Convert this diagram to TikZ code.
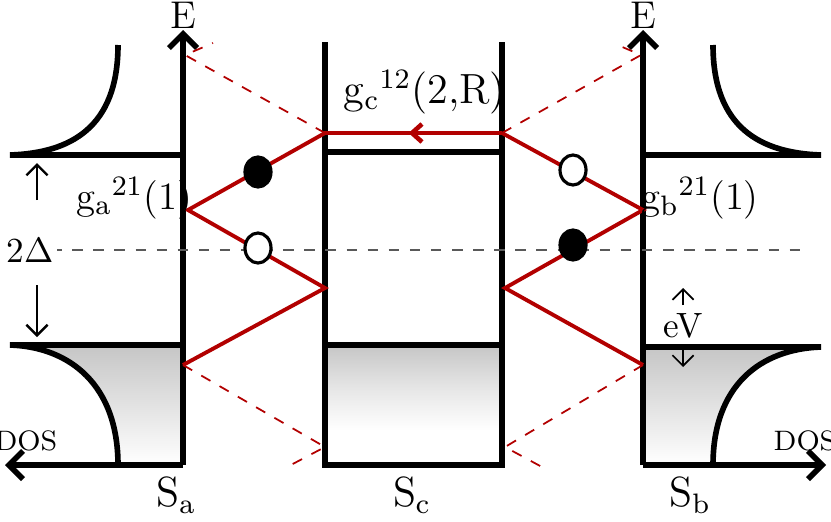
\documentclass[tikz,border=0pt]{standalone}
\usetikzlibrary{arrows.meta,shapes.geometric}
\begin{document}
\begin{tikzpicture}[x=0.01cm,y=-0.01cm,
  every node/.style={font=\fontsize{10}{11}\selectfont},
  axis/.style={line width=1.6pt,-{Straight Barb[length=4pt,width=8pt]}},
  edge/.style={line width=1.6pt},
  path/.style={draw=red!70!black,line width=1.1pt},
  ghost/.style={draw=red!70!black,dashed,line width=0.5pt},
  qp/.style={ellipse,draw,line width=0.9pt,minimum width=0.26cm,minimum height=0.3cm,inner sep=0pt},
  gap/.style={-{Straight Barb[length=3pt]},line width=0.7pt}]
\useasboundingbox (0,0) rectangle (831,521);
%definitions
\def\dosa{(118,45) .. controls (118,128) and (70,153) .. (10,155)}
\def\dosb{(713,45) .. controls (713,128) and (761,153) .. (821,155)}

%fills
\shade[top color=gray!45,bottom color=white] (10,345) -- (183,345) -- (183,465) -- (118,465) .. controls (118,385) and (70,347) .. (10,345) -- cycle;
\shade[top color=gray!45,bottom color=white] (821,347) -- (643,347) -- (643,465) -- (713,465) .. controls (713,385) and (761,349) .. (821,347) -- cycle;
\shade[top color=gray!45,bottom color=white,middle color=gray!20] (325,345) rectangle (502,430);

%shapes
\coordinate (Ea) at (183,465); \coordinate (Eb) at (643,465);
\draw[axis] (Ea) -- (183,30);
\draw[axis] (Ea) -- (5,465);
\draw[axis] (Eb) -- (643,30);
\draw[axis] (Eb) -- (826,465);
\node (ea) at (183,15) {\fontsize{11}{12}\selectfont E};
\node (eb) at (643,15) {\fontsize{11}{12}\selectfont E};
\node (dosl) at (26,441) {\fontsize{8}{9}\selectfont DOS};
\node (dosr) at (805,441) {\fontsize{8}{9}\selectfont DOS};
\draw[edge] \dosa -- (183,155);
\draw[edge] (183,345) -- (10,345) .. controls (70,347) and (118,385) .. (118,465);
\draw[edge] \dosb -- (643,155);
\draw[edge] (643,347) -- (821,347) .. controls (761,349) and (713,385) .. (713,465);
\draw[edge] (325,42) -- (325,465) -- (502,465) -- (502,42);
\draw[edge] (325,152) -- (502,152);
\draw[edge] (325,345) -- (502,345);

\draw[dashed,gray!70!black,line width=0.8pt] (30,250) -- (810,250);

%ghost paths
\draw[ghost] (325,133) -- (185,55) -- (213,43);
\draw[ghost] (502,133) -- (641,55) -- (613,43);
\draw[ghost] (183,365) -- (325,447) -- (287,467);
\draw[ghost] (643,365) -- (505,447) -- (542,467);

%paths
\coordinate (c1) at (325,133); \coordinate (c2) at (502,133);
\draw[path] (c2) -- (c1) -- (188,210) -- (325,288) -- (183,365);
\draw[path] (c2) -- (643,210) -- (505,288) -- (643,365);
\draw[red!70!black,line width=1.3pt] (422,124) -- (412,133) -- (422,142);
\node[qp,fill=black] (h1) at (258,172) {};
\node[qp,fill=white] (h2) at (258,248) {};
\node[qp,fill=white] (h3) at (573,170) {};
\node[qp,fill=black] (h4) at (573,245) {};

%labels
\node (gc) at (425,92) {\fontsize{12}{13}\selectfont g$_{\rm c}$$^{12}$(2,R)};
\node (ga) at (134,198) {\fontsize{11}{12}\selectfont g$_{\rm a}$$^{21}$(1)};
\node (gb) at (700,198) {\fontsize{11}{12}\selectfont g$_{\rm b}$$^{21}$(1)};
\node (del) at (30,250) [fill=white,inner sep=1pt] {2$\Delta$};
\draw[gap] (37,200) -- (37,163);
\draw[gap] (37,285) -- (37,337);
\node (ev) at (683,326) {eV};
\draw[gap,line width=0.5pt] (683,305) -- (683,288);
\draw[gap,line width=0.5pt] (683,350) -- (683,367);
\node (sa) at (176,495) {\fontsize{12}{13}\selectfont S$_{\rm a}$};
\node (sc) at (412,495) {\fontsize{12}{13}\selectfont S$_{\rm c}$};
\node (sb) at (690,495) {\fontsize{12}{13}\selectfont S$_{\rm b}$};
\end{tikzpicture}
\end{document}
